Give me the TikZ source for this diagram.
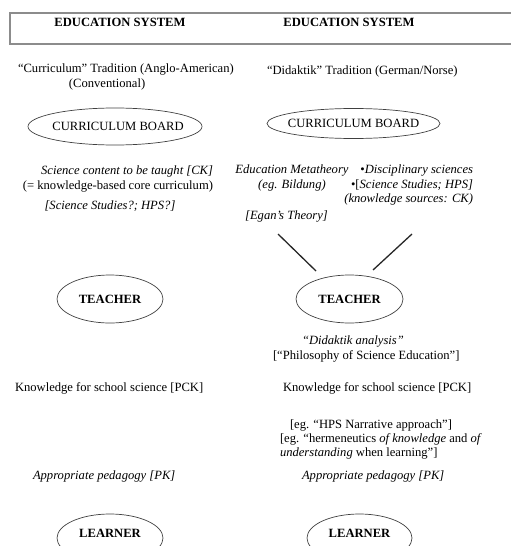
\documentclass[tikz,border=0pt]{standalone}
\usepackage{fontspec}
\setmainfont{Liberation Serif}
\usetikzlibrary{shapes.geometric}
\begin{document}
\begin{tikzpicture}[x=1pt,y=-1pt,
  every node/.style={inner sep=0pt, outer sep=0pt, font=\fontsize{12.6}{14.6}\selectfont},
  txt/.style={anchor=base west},
  board/.style={draw=black!75, line width=0.7pt, ellipse, inner xsep=-8pt, minimum width=172pt, minimum height=36pt},
  actor/.style={draw=black!75, line width=0.7pt, ellipse, minimum width=106pt, minimum height=48pt,
                font=\fontsize{12.6}{14.6}\selectfont\bfseries},
  link/.style={line width=1.3pt, black!85}]
\useasboundingbox (0,0) rectangle (511,546);
\clip (0,0) rectangle (511,546);

% header frame
\draw[black!45, line width=1.1pt] (10,13) rectangle (530,44);
\node[anchor=base] (esL) at (120,26) {\bfseries EDUCATION SYSTEM};
\node[anchor=base] (esR) at (349,26) {\bfseries EDUCATION SYSTEM};

% traditions
\node[anchor=north west, align=left] (tradL) at (18,64)
  {“Curriculum” Tradition (Anglo-American)\\\hspace*{51pt}(Conventional)};
\node[txt] (tradR) at (267,74) {“Didaktik” Tradition (German/Norse)};

% curriculum boards
\node[board, minimum width=174pt, minimum height=37pt] (cbL) at (115,126.5) {\mbox{}\hspace{6pt}CURRICULUM BOARD};
\node[board, minimum width=173pt, minimum height=30pt] (cbR) at (353.5,123.5) {CURRICULUM BOARD};

% content sources
\node[anchor=north east, align=right] (ckL) at (213,166)
  {\itshape Science content to be taught [CK]\\(= knowledge-based core curriculum)};
\node[anchor=base] (hpsL) at (110,209) {\itshape [Science Studies?; HPS?]};

\node[anchor=north, align=center] (meta) at (292,165)
  {\itshape Education Metatheory\\\itshape(eg. Bildung)};
\node[anchor=north east, align=right] (disc) at (473,165)
  {•\itshape Disciplinary sciences\\•[\itshape Science Studies; HPS]\\\itshape (knowledge sources: CK)};
\node[anchor=base] (egan) at (286.5,219) {\itshape [Egan’s Theory]};

% teachers
\node[actor] (teachL) at (110,299) {TEACHER};
\node[actor, minimum width=107pt] (teachR) at (349.5,299) {TEACHER};

\coordinate (inA) at (278,234);
\coordinate (inB) at (412,234);
\coordinate (toA) at (316,271);
\coordinate (toB) at (373,270);
\draw[link] (inA) -- (toA);
\draw[link] (inB) -- (toB);

% didaktik analysis
\node[anchor=north west, align=left] (dida) at (273,336)
  {\mbox{}\hspace{29pt}\textit{“Didaktik analysis”}\\{[“Philosophy of Science Education”]}};

% pedagogical content knowledge
\node[txt] (pckL) at (15,391) {Knowledge for school science [PCK]};
\node[txt] (pckR) at (283,391) {Knowledge for school science [PCK]};

\node[txt] (narr) at (290,428) {[eg. “HPS Narrative approach”]};
\node[anchor=north west, align=left] (herm) at (280,433.5)
  {[eg. “hermeneutics \textit{of knowledge} and \textit{of}\\\textit{understanding} when learning”]};

% pedagogy
\node[txt] (pkL) at (33,479) {\itshape Appropriate pedagogy [PK]};
\node[txt] (pkR) at (302,479) {\itshape Appropriate pedagogy [PK]};

% learners
\node[actor, text height=8pt, text depth=9pt] (learnL) at (110,538) {LEARNER};
\node[actor, minimum width=105pt, text height=8pt, text depth=9pt] (learnR) at (359.5,538) {LEARNER};
\end{tikzpicture}
\end{document}
